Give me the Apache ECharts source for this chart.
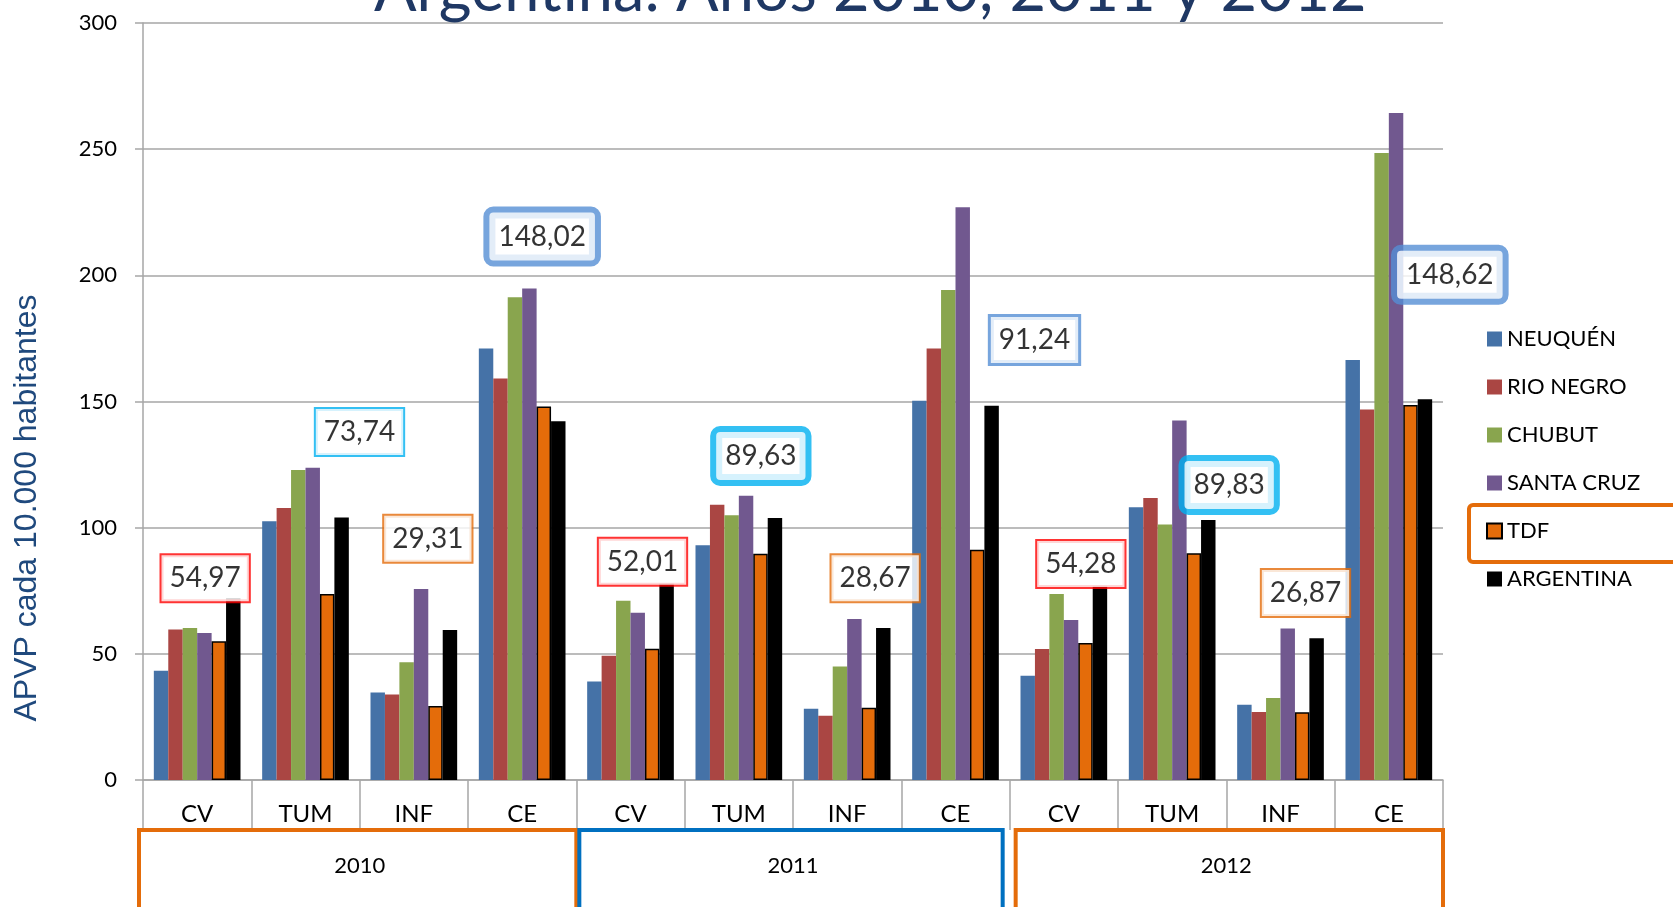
<!DOCTYPE html>
<html>
<head>
<meta charset="utf-8">
<title>APVP</title>
<script src="https://cdn.jsdelivr.net/npm/echarts@6/dist/echarts.min.js"></script>
<style>
  html, body { margin: 0; padding: 0; background: #fff; }
  #grafico { width: 1673px; height: 907px; }
</style>
</head>
<body>
<div id="grafico"></div>
<script>
const categorias = ['CV', 'TUM', 'INF', 'CE', 'CV', 'TUM', 'INF', 'CE', 'CV', 'TUM', 'INF', 'CE'];
const anios = ['2010', '2011', '2012'];

const neuquen   = [43.3, 102.5, 34.7, 171.0, 39.0, 93.0, 28.2, 150.3, 41.3, 108.1, 29.8, 166.4];
const rioNegro  = [59.6, 107.8, 33.9, 159.1, 49.2, 109.1, 25.5, 171.0, 51.9, 111.8, 26.9, 146.8];
const chubut    = [60.2, 122.9, 46.7, 191.3, 71.0, 104.9, 45.0, 194.2, 73.7, 101.3, 32.5, 248.5];
const santaCruz = [58.3, 123.7, 75.7, 194.8, 66.3, 112.6, 63.8, 227.0, 63.4, 142.5, 60.0, 264.3];
const tdf       = [54.97, 73.74, 29.31, 148.02, 52.01, 89.63, 28.67, 91.24, 54.28, 89.83, 26.87, 148.62];
const argentina = [72.0, 104.0, 59.4, 142.2, 78.0, 103.8, 60.2, 148.3, 77.0, 103.0, 56.2, 150.9];

// recuadros con el valor de TDF: altura (en unidades del eje), corrimiento en x y tipo de borde
const recuadroY    = [80.0, 137.9, 95.6, 215.4, 86.5, 128.4, 80.0, 174.4, 85.6, 116.9, 74.1, 200.2];
const recuadroDx   = [8, 54, 14, 20, 12, 22, 28, 79, 17, 57, 25, 61];
const recuadroTipo = ['rojo', 'celeste', 'naranja', 'azul', 'rojo', 'cian', 'naranja', 'azulMedio', 'rojo', 'cian', 'naranja', 'azul'];

const fuente = 'Lato';
const estilosRecuadro = {
  rojo:      { borderColor: '#ff0000', borderWidth: 2, padding: [8, 8] },
  celeste:   { borderColor: '#00b0f0', borderWidth: 2, padding: [8, 8] },
  naranja:   { borderColor: '#e46c0a', borderWidth: 2, padding: [8, 8] },
  azulMedio: { borderColor: '#558ed5', borderWidth: 3, padding: [8, 8] },
  azul:      { borderColor: '#558ed5', borderWidth: 6, borderRadius: 4, padding: [9, 9] },
  cian:      { borderColor: '#00b0f0', borderWidth: 6, borderRadius: 4, padding: [9, 9] }
};

const chart = echarts.init(document.getElementById('grafico'));

const barra = (nombre, datos, color, extra) => Object.assign({
  name: nombre,
  type: 'bar',
  data: datos,
  itemStyle: { color: color },
  barGap: '0%',
  barCategoryGap: '20%'
}, extra || {});

chart.setOption({
  animation: false,
  title: {
    text: 'Argentina: Años 2010, 2011 y 2012',
    left: 369,
    top: -46,
    textStyle: { fontFamily: fuente, fontSize: 63, fontWeight: 'normal', color: '#1f3864' }
  },
  legend: {
    orient: 'vertical',
    left: 1481,
    top: 323,
    itemWidth: 15,
    itemHeight: 15,
    itemGap: 26,
    icon: 'rect',
    textStyle: { fontFamily: fuente, fontSize: 22, color: '#000' },
    data: ['NEUQUÉN', 'RIO NEGRO', 'CHUBUT', 'SANTA CRUZ', 'TDF', 'ARGENTINA']
  },
  grid: { left: 143, right: 230, top: 23, bottom: 127 },
  xAxis: [
    {
      type: 'category',
      data: categorias,
      axisLine: { show: true, lineStyle: { color: '#a6a6a6', width: 1.5 } },
      axisTick: { show: true, length: 50, interval: 0, alignWithLabel: false, lineStyle: { color: '#a6a6a6', width: 1.5 } },
      axisLabel: { interval: 0, margin: 22, fontFamily: fuente, fontSize: 24, color: '#000' }
    },
    {
      type: 'category',
      data: anios,
      position: 'bottom',
      offset: 50,
      axisLine: { show: false },
      axisTick: { show: false },
      axisLabel: { margin: 25, fontFamily: fuente, fontSize: 22, color: '#000' }
    }
  ],
  yAxis: {
    type: 'value',
    min: 0,
    max: 300,
    interval: 50,
    axisLine: { show: true, lineStyle: { color: '#a6a6a6', width: 1.5 } },
    axisTick: { show: true, length: 8, lineStyle: { color: '#a6a6a6', width: 1.5 } },
    splitLine: { lineStyle: { color: '#a6a6a6', width: 1.5 } },
    axisLabel: { margin: 26, fontFamily: fuente, fontSize: 22, color: '#000' }
  },
  series: [
    barra('NEUQUÉN', neuquen, '#4572a7'),
    barra('RIO NEGRO', rioNegro, '#aa4643'),
    barra('CHUBUT', chubut, '#89a54e'),
    barra('SANTA CRUZ', santaCruz, '#71588f'),
    barra('TDF', tdf, '#e46c0a', { itemStyle: { color: '#e46c0a', borderColor: '#000', borderWidth: 1.5 } }),
    barra('ARGENTINA', argentina, '#000000'),
    {
      name: 'valores TDF',
      type: 'scatter',
      z: 10,
      silent: true,
      symbolSize: 1,
      itemStyle: { color: 'transparent' },
      data: tdf.map((v, i) => ({
        value: [i, recuadroY[i]],
        label: Object.assign({
          show: true,
          position: 'inside',
          offset: [recuadroDx[i], 0],
          formatter: v.toFixed(2).replace('.', ','),
          fontFamily: fuente,
          fontSize: 28,
          lineHeight: 30,
          color: '#000',
          backgroundColor: '#fff'
        }, estilosRecuadro[recuadroTipo[i]])
      }))
    }
  ]
});

// limites de cada categoria en pixeles, para los recuadros de los años
const c0 = chart.convertToPixel({ xAxisIndex: 0 }, 0);
const c1 = chart.convertToPixel({ xAxisIndex: 0 }, 1);
const ancho = c1 - c0;
const limite = (k) => c0 - ancho / 2 + k * ancho;
const colorAnio = ['#e46c0a', '#0070c0', '#e46c0a'];
const margenIzq = [-4, 3, 6];
const margenDer = [0, -7, 0];
const yFila = chart.convertToPixel({ yAxisIndex: 0 }, 0) + 50;

const recuadrosAnio = anios.map((a, j) => {
  const x0 = limite(j * 4) + margenIzq[j];
  const x1 = limite(j * 4 + 4) + margenDer[j];
  return {
    type: 'rect',
    shape: { x: x0, y: yFila, width: x1 - x0, height: 120 },
    style: { fill: 'none', stroke: colorAnio[j], lineWidth: 4 },
    z: 20
  };
});

chart.setOption({
  graphic: recuadrosAnio.concat([
    {
      type: 'text',
      x: 27,
      y: 508,
      rotation: Math.PI / 2,
      style: {
        text: 'APVP cada 10.000 habitantes',
        fontFamily: 'Liberation Sans',
        fontSize: 32,
        fill: '#1f497d',
        align: 'center',
        verticalAlign: 'middle'
      }
    },
    {
      type: 'rect',
      shape: { x: 1469, y: 505, width: 240, height: 57, r: 4 },
      style: { fill: 'none', stroke: '#e46c0a', lineWidth: 4 },
      z: 20
    }
  ])
});

window.onresize = function () {
  chart.resize();
};
</script>
</body>
</html>
